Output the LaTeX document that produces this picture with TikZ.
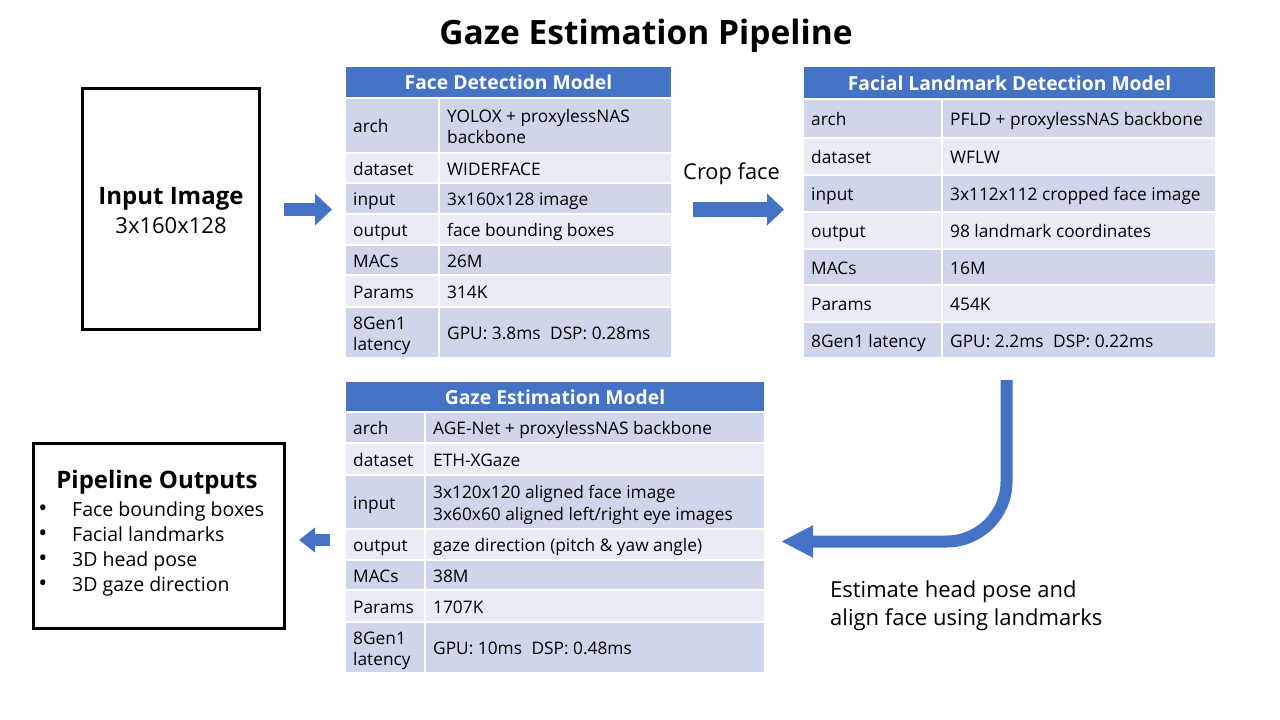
\documentclass[tikz,border=0pt]{standalone}
\usepackage{fontspec}
\setmainfont{Open Sans}
\usetikzlibrary{arrows.meta}
\definecolor{hdr}{HTML}{4472C4}
\definecolor{rowA}{HTML}{CFD5EA}
\definecolor{rowB}{HTML}{E9EBF5}
\definecolor{arrowblue}{HTML}{4472C4}
% bg cell + text: style, name, x1, y1, x2, y2, fill, text
\newcommand\tcell[8]{%
  \pgfmathsetmacro\tcw{#5-#3}\pgfmathsetmacro\tch{#6-#4}%
  \node[bgcell, fill=#7, minimum width=\tcw pt, minimum height=\tch pt, anchor=north west] (#2) at (#3,#4) {};%
  \node[#1, anchor=west] (#2t) at ([xshift=8pt]#2.west) {\strut #8\strut};}
% header: name, x1, y1, x2, y2, text
\newcommand\thead[6]{%
  \pgfmathsetmacro\tcw{#4-#2}\pgfmathsetmacro\tch{#5-#3}%
  \node[bgcell, fill=hdr, minimum width=\tcw pt, minimum height=\tch pt, anchor=north west] (#1) at (#2,#3) {};%
  \node[headtext] (#1t) at (#1.center) {\strut #6\strut};}
\begin{document}
\begin{tikzpicture}[x=1pt,y=-1pt,
  bgcell/.style={draw=white, line width=1.5pt, inner sep=0pt, outer sep=0pt},
  celltext/.style={inner sep=0pt, align=left, text=black, yshift=-3pt, font=\fontsize{17.3}{21.5}\selectfont},
  headtext/.style={inner sep=0pt, text=white, yshift=-3pt, font=\fontsize{19.3}{23}\selectfont\bfseries},
  framebox/.style={draw=black, line width=3pt, fill=white, inner sep=0pt},
  blkarrow/.style={draw=arrowblue, line cap=butt},
  plain/.style={inner sep=0pt, text=black}]
\useasboundingbox (0,0) rectangle (1280,720);
\fill[white] (0,0) rectangle (1280,720);

% title
\node[plain, anchor=base, font=\fontsize{33.5}{40}\selectfont\bfseries] (title) at (646,44) {Gaze Estimation Pipeline};

% input image
\node[framebox, minimum width=177pt, minimum height=241pt] (inbox) at (171,209) {};
\node[plain, anchor=base, font=\fontsize{24}{29}\selectfont\bfseries] (intitle) at (171,204) {Input Image};
\node[plain, anchor=base, font=\fontsize{22}{26}\selectfont] (insub) at (171,233) {3x160x128};

% face detection table
\thead{fdh}{345}{66}{672}{98}{Face Detection Model}
\tcell{celltext}{fd1a}{345}{98}{439}{153}{rowA}{arch}
\tcell{celltext}{fd1b}{439}{98}{672}{153}{rowA}{YOLOX + proxylessNAS\\backbone}
\tcell{celltext}{fd2a}{345}{153}{439}{183}{rowB}{dataset}
\tcell{celltext}{fd2b}{439}{153}{672}{183}{rowB}{WIDERFACE}
\tcell{celltext}{fd3a}{345}{183}{439}{214}{rowA}{input}
\tcell{celltext}{fd3b}{439}{183}{672}{214}{rowA}{3x160x128 image}
\tcell{celltext}{fd4a}{345}{214}{439}{245}{rowB}{output}
\tcell{celltext}{fd4b}{439}{214}{672}{245}{rowB}{face bounding boxes}
\tcell{celltext}{fd5a}{345}{245}{439}{275}{rowA}{MACs}
\tcell{celltext}{fd5b}{439}{245}{672}{275}{rowA}{26M}
\tcell{celltext}{fd6a}{345}{275}{439}{307}{rowB}{Params}
\tcell{celltext}{fd6b}{439}{275}{672}{307}{rowB}{314K}
\tcell{celltext}{fd7a}{345}{307}{439}{358}{rowA}{8Gen1\\latency}
\tcell{celltext}{fd7b}{439}{307}{672}{358}{rowA}{GPU: 3.8ms\hspace{0.55em}DSP: 0.28ms}

% facial landmark table
\thead{flh}{803}{66}{1216}{99}{Facial Landmark Detection Model}
\tcell{celltext}{fl1a}{803}{99}{942}{138}{rowA}{arch}
\tcell{celltext}{fl1b}{942}{99}{1216}{138}{rowA}{PFLD + proxylessNAS backbone}
\tcell{celltext}{fl2a}{803}{138}{942}{175}{rowB}{dataset}
\tcell{celltext}{fl2b}{942}{138}{1216}{175}{rowB}{WFLW}
\tcell{celltext}{fl3a}{803}{175}{942}{212}{rowA}{input}
\tcell{celltext}{fl3b}{942}{175}{1216}{212}{rowA}{3x112x112 cropped face image}
\tcell{celltext}{fl4a}{803}{212}{942}{249}{rowB}{output}
\tcell{celltext}{fl4b}{942}{212}{1216}{249}{rowB}{98 landmark coordinates}
\tcell{celltext}{fl5a}{803}{249}{942}{285}{rowA}{MACs}
\tcell{celltext}{fl5b}{942}{249}{1216}{285}{rowA}{16M}
\tcell{celltext}{fl6a}{803}{285}{942}{322}{rowB}{Params}
\tcell{celltext}{fl6b}{942}{285}{1216}{322}{rowB}{454K}
\tcell{celltext}{fl7a}{803}{322}{942}{358}{rowA}{8Gen1 latency}
\tcell{celltext}{fl7b}{942}{322}{1216}{358}{rowA}{GPU: 2.2ms\hspace{0.55em}DSP: 0.22ms}

% gaze estimation table
\thead{geh}{345}{381}{765}{412}{Gaze Estimation Model}
\tcell{celltext}{ge1a}{345}{412}{425}{443}{rowA}{arch}
\tcell{celltext}{ge1b}{425}{412}{765}{443}{rowA}{AGE-Net + proxylessNAS backbone}
\tcell{celltext}{ge2a}{345}{443}{425}{475}{rowB}{dataset}
\tcell{celltext}{ge2b}{425}{443}{765}{475}{rowB}{ETH-XGaze}
\tcell{celltext}{ge3a}{345}{475}{425}{529}{rowA}{input}
\tcell{celltext}{ge3b}{425}{475}{765}{529}{rowA}{3x120x120 aligned face image\\3x60x60 aligned left/right eye images}
\tcell{celltext}{ge4a}{345}{529}{425}{560}{rowB}{output}
\tcell{celltext}{ge4b}{425}{529}{765}{560}{rowB}{gaze direction (pitch \& yaw angle)}
\tcell{celltext}{ge5a}{345}{560}{425}{590}{rowA}{MACs}
\tcell{celltext}{ge5b}{425}{560}{765}{590}{rowA}{38M}
\tcell{celltext}{ge6a}{345}{590}{425}{622}{rowB}{Params}
\tcell{celltext}{ge6b}{425}{590}{765}{622}{rowB}{1707K}
\tcell{celltext}{ge7a}{345}{622}{425}{673}{rowA}{8Gen1\\latency}
\tcell{celltext}{ge7b}{425}{622}{765}{673}{rowA}{GPU: 10ms\hspace{0.55em}DSP: 0.48ms}

% pipeline outputs
\node[framebox, minimum width=251pt, minimum height=185pt] (outbox) at (159,536) {};
\node[plain, anchor=base, font=\fontsize{24}{29}\selectfont\bfseries] (outtitle) at (157,488) {Pipeline Outputs};
\foreach \i/\yy/\txt in {1/516/Face bounding boxes, 2/541/Facial landmarks, 3/566/3D head pose, 4/591/3D gaze direction}{
  \node[plain, anchor=base, font=\fontsize{24}{24}\selectfont] (bul\i) at (43,\yy) {•};
  \node[plain, anchor=base west, font=\fontsize{19.5}{24}\selectfont] (item\i) at (72,\yy) {\txt};
}

% labels
\node[plain, anchor=base, font=\fontsize{21.8}{26}\selectfont] (croplbl) at (731.5,179) {Crop face};
\node[plain, anchor=base west, font=\fontsize{22}{28}\selectfont] (est1) at (830,597) {Estimate head pose and};
\node[plain, anchor=base west, font=\fontsize{22}{28}\selectfont] (est2) at (830,625) {align face using landmarks};

% arrows
\coordinate (a1s) at (284,209.5);
\coordinate (a1e) at (332,209.5);
\draw[blkarrow, line width=13pt, -{Triangle[width=31pt,length=17pt]}] (a1s) -- (a1e);
\coordinate (a2s) at (693,209.5);
\coordinate (a2e) at (784,209.5);
\draw[blkarrow, line width=15pt, -{Triangle[width=31pt,length=17pt]}] (a2s) -- (a2e);
\coordinate (a3s) at (1006.5,380);
\coordinate (a3e) at (781,541.5);
\draw[blkarrow, line width=12pt, rounded corners=60pt, -{Triangle[width=30pt,length=32pt]}] (a3s) |- (a3e);
\coordinate (a4s) at (330,540);
\coordinate (a4e) at (299,540);
\draw[blkarrow, line width=12pt, -{Triangle[width=24pt,length=16pt]}] (a4s) -- (a4e);
\end{tikzpicture}
\end{document}
